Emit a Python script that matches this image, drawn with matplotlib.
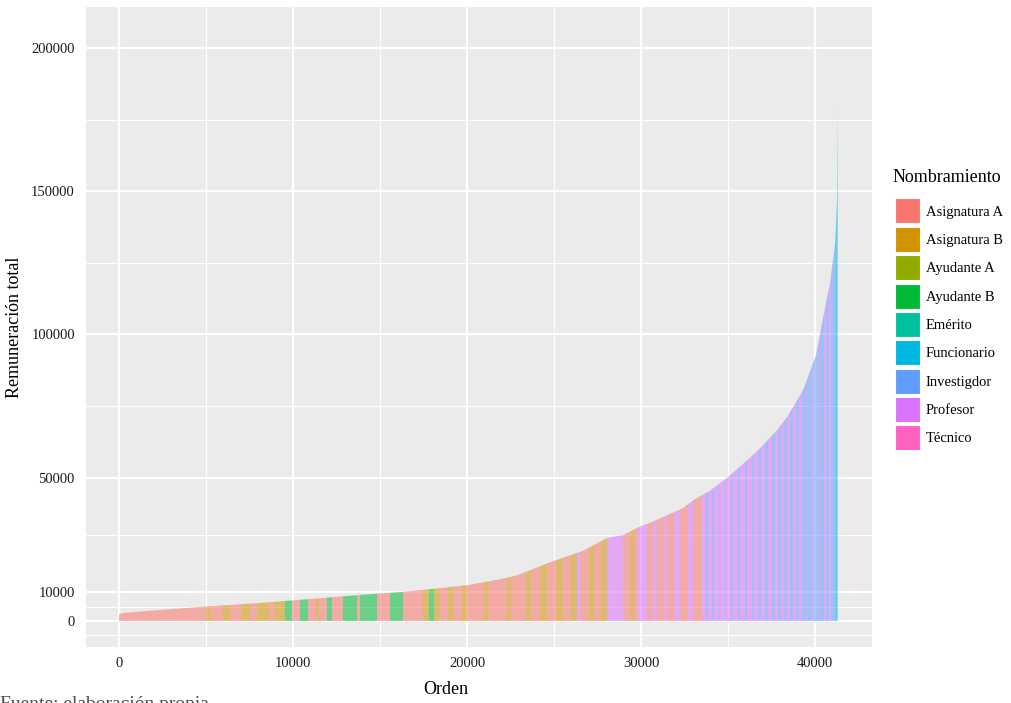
import matplotlib
matplotlib.use('Agg')
import matplotlib.pyplot as plt
from matplotlib.patches import Polygon, Patch

# Categories and ggplot hue palette
nombramientos = ['Asignatura A', 'Asignatura B', 'Ayudante A', 'Ayudante B', 'Emérito',
                 'Funcionario', 'Investigdor', 'Profesor', 'Técnico']
paleta = ['#F8766D', '#D39200', '#93AA00', '#00BA38', '#00C19F',
          '#00B9E3', '#619CFF', '#DB72FB', '#FF61C3']
codigo = {'AA': 0, 'AB': 1, 'YA': 2, 'YB': 3, 'EM': 4, 'FU': 5, 'IN': 6, 'PR': 7, 'TE': 8}

# top edge of the sorted bars (orden -> remuneración total)
orden_pts = [0, 200, 2000, 4650, 8100, 10400, 13850, 16150, 18450, 20000, 20750, 22000,
             22900, 24770, 26670, 28050, 28970, 29940, 30500, 32400, 33000, 33960, 34940,
             36260, 36840, 37800, 38390, 39310, 40060, 40460, 40860, 41150, 41260, 41300]
remun_pts = [2300, 2800, 3700, 4900, 6300, 7400, 9100, 10100, 11500, 12500, 13300, 14700,
             16000, 20500, 24500, 29000, 30000, 33000, 34200, 39400, 42200, 45500, 50000,
             57000, 60300, 66500, 71200, 80600, 93000, 106000, 118000, 132000, 147000, 178000]

# colour runs along the order axis: end of each run and its nombramiento
run_fin = [5000, 5300, 6000, 6400, 7000, 7500, 7900, 8600, 8900, 9550,
           9950, 10400, 10860, 11300, 11500, 11950, 12240, 12870, 13680, 13850,
           14830, 15570, 16320, 17470, 17800, 18100, 18450, 18900, 19200, 19700,
           20000, 21000, 21200, 22300, 22500, 23400, 23700, 24200, 24600, 25100,
           25500, 26000, 26300, 26500, 27000, 27300, 27700, 28050, 28970, 29400,
           29600, 29830, 30340, 30700, 30900, 31300, 31500, 31900, 32240, 32700,
           33000, 33500,
           33750, 33850, 34100, 34200, 34450, 34550, 34800, 34900, 35150, 35300,
           35550, 35700, 35950, 36100, 36350, 36500,
           36700, 36900, 37100, 37300, 37500, 37700, 37850, 38050, 38200, 38400,
           38550, 38750, 38900, 39100, 39250, 39450,
           39550, 39800, 39900, 40150, 40250, 40500, 40600, 40800, 40900, 41150,
           41300]
run_cat = ['AA', 'AB', 'AA', 'AB', 'AA', 'AB', 'AA', 'AB', 'AA', 'AB',
           'YB', 'AA', 'YB', 'AA', 'AB', 'AA', 'YB', 'AA', 'YB', 'AA',
           'YB', 'AA', 'YB', 'AA', 'AB', 'YB', 'AB', 'AA', 'AB', 'AA',
           'AB', 'AA', 'AB', 'AA', 'AB', 'AA', 'AB', 'AA', 'AB', 'AA',
           'AB', 'AA', 'AB', 'PR', 'AA', 'AB', 'AA', 'AB', 'PR', 'AA',
           'AB', 'AA', 'PR', 'AA', 'PR', 'AA', 'PR', 'AA', 'PR', 'AA',
           'PR', 'AA',
           'PR', 'IN', 'PR', 'IN', 'PR', 'IN', 'PR', 'IN', 'PR', 'IN',
           'PR', 'IN', 'PR', 'IN', 'PR', 'IN',
           'PR', 'IN', 'PR', 'IN', 'PR', 'IN', 'PR', 'IN', 'PR', 'IN',
           'PR', 'IN', 'PR', 'IN', 'PR', 'IN',
           'PR', 'IN', 'PR', 'IN', 'PR', 'IN', 'PR', 'IN', 'PR', 'IN',
           'FU']

x_breaks = [0, 10000, 20000, 30000, 40000]
x_minor = [5000, 15000, 25000, 35000]
y_breaks = [0, 10000, 50000, 100000, 150000, 200000]
y_minor = [-5000, 5000, 30000, 75000, 125000, 175000]

plt.rcParams['font.family'] = ['Liberation Serif', 'DejaVu Serif']

W, H = 1011, 703
fig = plt.figure(figsize=(W / 100, H / 100), dpi=100)
ax = fig.add_axes([86 / W, 1 - 647 / H, (872 - 86) / W, (647 - 7) / H])
ax.set_facecolor('#EBEBEB')
for s in ax.spines.values():
    s.set_visible(False)

for v in x_minor:
    ax.axvline(v, color='white', lw=0.8, zorder=0)
for v in y_minor:
    ax.axhline(v, color='white', lw=0.8, zorder=0)
for v in x_breaks:
    ax.axvline(v, color='white', lw=1.6, zorder=0)
for v in y_breaks:
    ax.axhline(v, color='white', lw=1.6, zorder=0)

# envelope of the bars, used to clip the colour runs
envolvente = Polygon([(orden_pts[0], 0)] + list(zip(orden_pts, remun_pts)) + [(orden_pts[-1], 0)],
                     closed=True, transform=ax.transData, facecolor='none', edgecolor='none')

inicio = [0] + run_fin[:-1]
ancho = [f - i for i, f in zip(inicio, run_fin)]
colores = [paleta[codigo[c]] for c in run_cat]
barras = ax.bar(inicio, [max(remun_pts)] * len(inicio), width=ancho, align='edge',
                color=colores, alpha=0.55, linewidth=0, antialiased=False, zorder=2)
for b in barras:
    b.set_clip_path(envolvente)

ax.set_xlim(-1900, 43270)
ax.set_ylim(-9075, 214300)
ax.set_xticks(x_breaks)
ax.set_yticks(y_breaks)
ax.set_xticklabels([str(v) for v in x_breaks])
ax.set_yticklabels([str(v) for v in y_breaks])
ax.tick_params(length=0, labelsize=10.5, labelcolor='#1a1a1a')
ax.tick_params(axis='x', pad=7)
ax.tick_params(axis='y', pad=8)

fig.text(446 / W, 1 - 690 / H, 'Orden', ha='center', va='center', fontsize=13)
fig.text(15 / W, 1 - 327 / H, 'Remuneración total', ha='center', va='center',
         rotation=90, fontsize=13)
fig.text(0, 1 - 696 / H, 'Fuente: elaboración propia', ha='left', va='top',
         fontsize=14, color='#4d4d4d')

# legend: title placed on its own, keys below it
fig.text(893 / W, 1 - 177 / H, 'Nombramiento', ha='left', va='center', fontsize=13)
handles = [Patch(facecolor=c, edgecolor='white', linewidth=0.8) for c in paleta]
leg = fig.legend(handles, nombramientos, loc='upper left',
                 bbox_to_anchor=(895 / W, 1 - 198.5 / H), frameon=False,
                 fontsize=10.5, handlelength=1.7, handleheight=2.26,
                 labelspacing=0.23, handletextpad=0.4, borderpad=0,
                 borderaxespad=0)

fig.savefig('out.png', dpi=100)
